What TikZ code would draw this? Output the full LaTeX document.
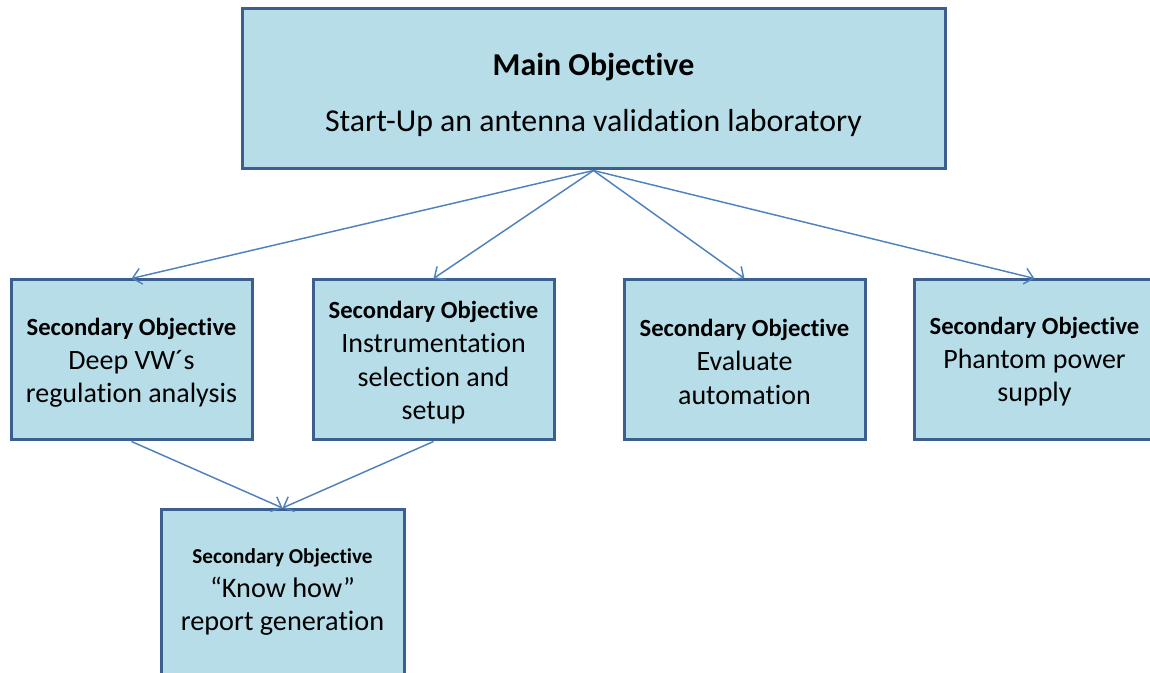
\documentclass[tikz,border=0pt]{standalone}
\usepackage{fontspec}
\setmainfont{Carlito}[Ligatures=CommonOff]
\usetikzlibrary{arrows.meta}
\definecolor{boxfill}{HTML}{B7DEE8}
\definecolor{boxline}{HTML}{3B5F8E}
\definecolor{arrowc}{HTML}{4F81BD}
\begin{document}
\begin{tikzpicture}[x=0.75pt,y=-0.75pt,
  box/.style={draw=boxline, line width=2.25pt, fill=boxfill, inner sep=0pt, align=center, text=black},
  mainbox/.style={box, minimum width=527.25pt, minimum height=120pt},
  txt/.style={align=center, inner sep=0pt, text=black},
  secbox/.style={box, minimum width=180.75pt, minimum height=120pt},
  sectxt/.style={txt, font=\fontsize{21}{25.2}\selectfont},
  conn/.style={draw=arrowc, line width=1.1pt, -{Straight Barb[length=6.5pt,width=12pt]}}]
\useasboundingbox (0,0) rectangle (1150,673);
\node[mainbox] (main) at (593.5,89) {};
\node[txt, font=\fontsize{23.9}{42}\selectfont] (maintext) at (593.5,95) {{\bfseries Main Objective}\\Start-Up an antenna validation laboratory};
\node[secbox] (s1) at (131.5,360) {};
\node[sectxt] (s1text) at (131.5,363) {{\fontsize{18.5}{25.2}\selectfont\bfseries Secondary Objective}\\Deep VW´s\\regulation analysis};
\node[secbox] (s2) at (433.5,360) {};
\node[sectxt] (s2text) at (433.5,363) {{\fontsize{18.5}{25.2}\selectfont\bfseries Secondary Objective}\\Instrumentation\\selection and\\setup};
\node[secbox] (s3) at (744.5,360) {};
\node[sectxt] (s3text) at (744.5,362) {{\fontsize{18.5}{25.2}\selectfont\bfseries Secondary Objective}\\Evaluate\\automation};
\node[secbox] (s4) at (1034.5,360) {};
\node[sectxt] (s4text) at (1034.5,362) {{\fontsize{18.5}{25.2}\selectfont\bfseries Secondary Objective}\\Phantom power\\supply};
\node[box, minimum width=182.25pt, minimum height=135pt, anchor=north] (s5) at (282.5,508) {};
\node[txt, font=\fontsize{21.2}{25}\selectfont] (s5text) at (282.5,592) {{\fontsize{15.9}{25}\selectfont\bfseries Secondary Objective}\\“Know how”\\report generation};
\draw[conn] (main.south) -- (s1.north);
\draw[conn] (main.south) -- (s2.north);
\draw[conn] (main.south) -- (s3.north);
\draw[conn] (main.south) -- (s4.north);
\draw[conn] (s1.south) -- (s5.north);
\draw[conn] (s2.south) -- (s5.north);
\end{tikzpicture}
\end{document}
